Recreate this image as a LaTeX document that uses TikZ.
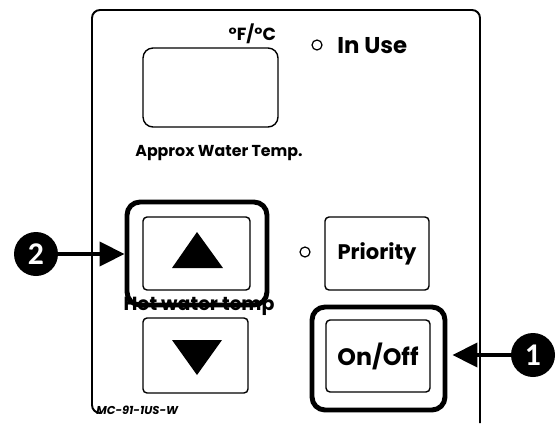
\documentclass[tikz,border=0pt]{standalone}
\usepackage{fontspec}
\setmainfont{Poppins}
\newfontfamily\numfont{Carlito}
\usepackage{tikz}
\usetikzlibrary{arrows.meta, positioning, calc, shapes}

\begin{document}
\begin{tikzpicture}[x=0.02cm, y=-0.02cm,
    btn/.style={draw, line width=0.8pt, rounded corners=0.08cm, inner sep=0pt},
    sel/.style={draw, line width=2.8pt, rounded corners=0.26cm, inner sep=0pt},
    led/.style={draw, circle, line width=0.7pt, minimum size=0.2cm, inner sep=0pt},
    num/.style={circle, fill=black, text=white, minimum size=0.88cm, inner sep=0pt,
        font=\numfont\bfseries\fontsize{18}{18}\selectfont},
    callout/.style={line width=2.3pt, -{Triangle[length=0.5cm, width=0.48cm]}}]
    \useasboundingbox (0, 0) rectangle (557, 423);

    % panel outline
    \draw[line width=1.1pt, rounded corners=0.16cm] (100, 413) -- (92, 413) -- (92, 10) -- (480, 10) -- (480, 423);

    % display
    \node[btn, rounded corners=0.2cm, minimum width=2.7cm, minimum height=1.58cm] (disp) at (210.5, 87.5) {};
    \node[font=\bfseries\fontsize{10}{12}\selectfont, anchor=south east, inner sep=1pt] (unit) at (278, 46) {°F/°C};
    \node[font=\bfseries\fontsize{9}{11}\selectfont] (approx) at (219, 153) {Approx Water Temp.};

    % in use
    \node[led] (useled) at (317, 45) {};
    \node[font=\bfseries\fontsize{13}{15}\selectfont, anchor=west, inner sep=0pt] (inuse) at (337, 46) {In Use};

    % temperature buttons
    \node[btn, minimum width=2.14cm, minimum height=1.46cm] (up) at (196.5, 253.5) {};
    \fill (197, 232) -- (223, 268) -- (172, 268) -- cycle;
    \node[btn, minimum width=2.1cm, minimum height=1.5cm] (down) at (195.5, 355.5) {};
    \fill (172, 340) -- (222, 340) -- (197, 375) -- cycle;
    \node[sel, minimum width=2.8cm, minimum height=2.06cm] (upsel) at (197, 253.5) {};
    \node[font=\bfseries\fontsize{10.8}{12}\selectfont] (hotlbl) at (199, 306) {Hot water temp};

    % priority and on/off
    \node[led] (prioled) at (305, 252) {};
    \node[btn, minimum width=2.08cm, minimum height=1.46cm, font=\bfseries\fontsize{12}{14}\selectfont] (prio) at (377, 253.5) {Priority};
    \node[btn, minimum width=2.08cm, minimum height=1.44cm, font=\bfseries\fontsize{13.5}{15}\selectfont] (onoff) at (378, 356) {On/Off};
    \node[sel, minimum width=2.66cm, minimum height=2.06cm] (onoffsel) at (378.5, 358.5) {};

    % model
    \node[font=\itshape\bfseries\fontsize{6.5}{8}\selectfont, anchor=west, inner sep=0pt] (model) at (96, 410) {MC-91-1US-W};

    % callouts
    \node[num] (n2) at (36, 254) {2};
    \node[num] (n1) at (533, 355) {1};
    \draw[callout] (n2) -- (upsel.west |- n2);
    \draw[callout, shorten >=0.1cm] (n1) -- (onoffsel.east |- n1);
\end{tikzpicture}
\end{document}
